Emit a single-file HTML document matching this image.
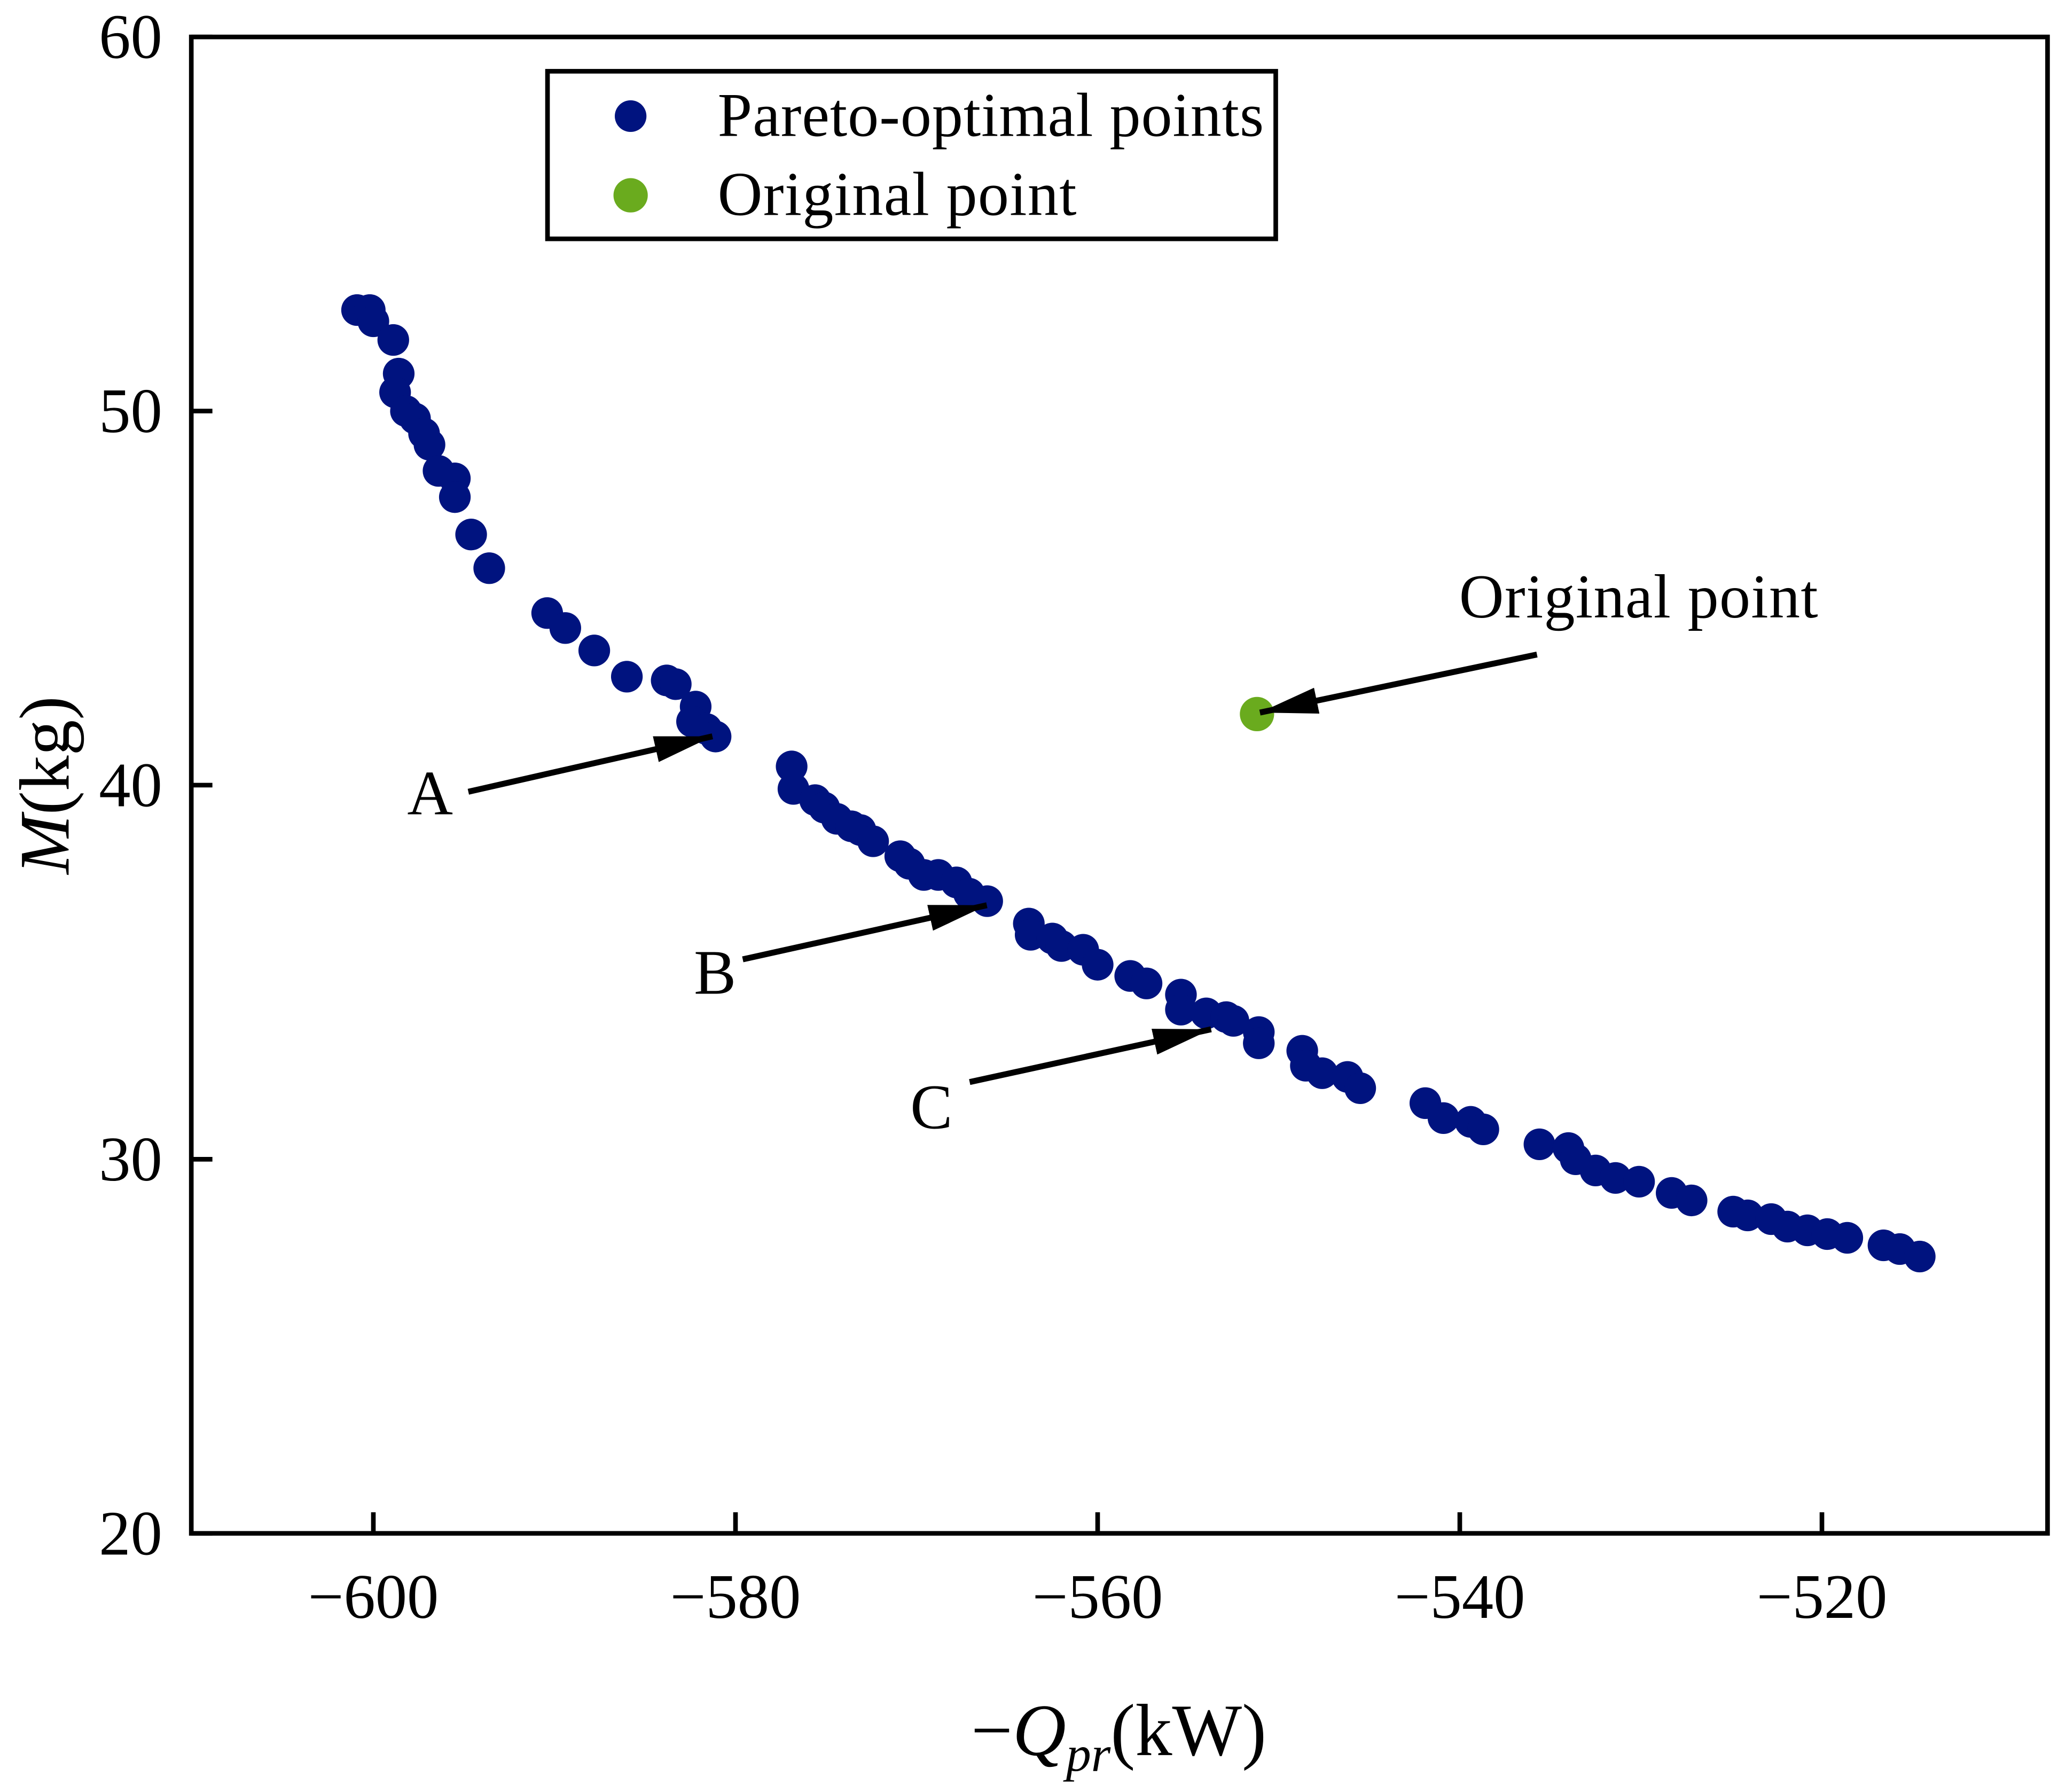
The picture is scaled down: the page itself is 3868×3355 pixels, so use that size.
<!DOCTYPE html>
<html><head><meta charset="utf-8"><style>
html,body{margin:0;padding:0;background:#fff;}
svg{display:block;}
text{font-family:"Liberation Serif",serif;fill:#000;}
</style></head><body>
<svg id="chart" width="3868" height="3355" viewBox="0 0 1566 1358" preserveAspectRatio="none" xmlns="http://www.w3.org/2000/svg">
<defs>
<marker id="ah2" viewBox="0 0 10 8" markerWidth="44" markerHeight="20" refX="10" refY="4" orient="auto" markerUnits="userSpaceOnUse" preserveAspectRatio="none"><path d="M0,0 L10,4 L0,8 Z" fill="#000"/></marker></defs>
<g id="axes"></g>
<g id="marks"></g>
<g id="annotations">
<line x1="355" y1="600" x2="540" y2="558" stroke="#000" stroke-width="4.5" marker-end="url(#ah2)"/>
<text x="326" y="617" font-size="48" text-anchor="middle">A</text>
<line x1="563" y1="727" x2="748" y2="686" stroke="#000" stroke-width="4.5" marker-end="url(#ah2)"/>
<text x="542" y="753" font-size="48" text-anchor="middle">B</text>
<line x1="735" y1="820" x2="918" y2="780" stroke="#000" stroke-width="4.5" marker-end="url(#ah2)"/>
<text x="706" y="855" font-size="48" text-anchor="middle">C</text>
<line x1="1165" y1="496" x2="955" y2="540" stroke="#000" stroke-width="4.5" marker-end="url(#ah2)"/>
<text x="1106" y="468" font-size="47" textLength="272">Original point</text>
</g>
<g>
<rect x="415" y="54" width="552" height="127" fill="#fff" stroke="#000" stroke-width="3.5"/>
<circle cx="478" cy="88" r="12" fill="#00137f"/>
<text x="544" y="103" font-size="47" textLength="414">Pareto-optimal points</text>
<circle cx="478" cy="148" r="13" fill="#6aab1e"/>
<text x="544" y="163" font-size="47" textLength="272">Original point</text>
</g>
<text transform="translate(52,595) rotate(-90)" font-size="54" text-anchor="middle"><tspan font-style="italic">M</tspan>(kg)</text>
<text x="848" y="1330" font-size="56" text-anchor="middle">−<tspan font-style="italic">Q</tspan><tspan font-style="italic" font-size="38" dy="12">pr</tspan><tspan dy="-12">(kW)</tspan></text>
</svg>
<script>
const xTicks=[-600,-580,-560,-540,-520];
const yTicks=[20,30,40,50,60];
const paretoQ=[-600.9,-600.2,-600,-598.9,-598.6,-598.8,-598.2,-597.7,-597.2,-596.9,-596.4,-595.5,-595.5,-594.6,-593.6,-590.4,-589.4,-587.8,-586.0,-583.8,-583.3,-582.2,-582.4,-581.6,-581.1,-576.9,-576.8,-575.6,-575.1,-574.4,-573.6,-573.1,-572.4,-570.9,-570.4,-569.6,-568.8,-567.8,-567.1,-566.1,-563.8,-563.7,-562.5,-562.0,-560.8,-560.0,-558.2,-557.3,-555.4,-555.4,-554.0,-552.9,-552.5,-551.1,-551.1,-548.7,-548.5,-547.6,-546.2,-545.5,-541.9,-540.9,-539.4,-538.7,-535.6,-534.0,-533.6,-532.5,-531.4,-530.1,-528.3,-527.2,-524.9,-524.1,-522.8,-521.9,-520.8,-519.7,-518.6,-516.6,-515.7,-514.6];
const paretoM=[52.7,52.7,52.4,51.9,51.0,50.5,50.0,49.8,49.4,49.1,48.4,48.2,47.7,46.7,45.8,44.6,44.2,43.6,42.9,42.8,42.7,42.1,41.7,41.5,41.3,40.5,39.9,39.6,39.4,39.1,38.9,38.8,38.5,38.1,37.9,37.6,37.6,37.4,37.1,36.9,36.3,36.0,35.9,35.7,35.6,35.2,34.9,34.7,34.4,34.0,33.9,33.8,33.7,33.4,33.1,32.9,32.5,32.3,32.2,31.9,31.5,31.1,31.0,30.8,30.4,30.3,30.0,29.7,29.5,29.4,29.1,28.9,28.6,28.5,28.4,28.2,28.1,28.0,27.9,27.7,27.6,27.4];
const originalQ=[-551.2];
const originalM=[41.9];
const NS="http://www.w3.org/2000/svg";
const L=145,R=1552,T=28,B=1162;
const xs=v=>283+(v+600)*(1381-283)/80;
const ys=v=>B-(v-20)*(B-T)/40;
function mk(tag,attrs,parent){const e=document.createElementNS(NS,tag);for(const k in attrs)e.setAttribute(k,attrs[k]);parent.appendChild(e);return e;}
const ax=document.getElementById('axes');
let f=mk('rect',{x:L,y:T,width:R-L,height:B-T,fill:'none',stroke:'#000','stroke-width':3.5},ax);


xTicks.forEach(v=>{
 const t=mk('line',{x1:xs(v),x2:xs(v),y1:B,y2:B-16,stroke:'#000','stroke-width':3.5},ax);
 
 
 const l=mk('text',{x:xs(v),y:B+64,'font-size':48,'text-anchor':'middle'},ax);
 l.textContent='−'+Math.abs(v);
 
 
});
yTicks.forEach(v=>{
 const t=mk('line',{x1:L,x2:L+16,y1:ys(v),y2:ys(v),stroke:'#000','stroke-width':3.5},ax);
 
 
 const l=mk('text',{x:L-22,y:ys(v)+16,'font-size':48,'text-anchor':'end'},ax);
 l.textContent=v;
 
 
});
const mg=document.getElementById('marks');
paretoQ.forEach((q,i)=>{
 const c=mk('circle',{cx:xs(q),cy:ys(paretoM[i]),r:12,fill:'#00137f'},mg);
 
 
});
originalQ.forEach((q,i)=>{
 const c=mk('circle',{cx:xs(q),cy:ys(originalM[i]),r:13,fill:'#6aab1e'},mg);
 
 
});
</script>
</body></html>
